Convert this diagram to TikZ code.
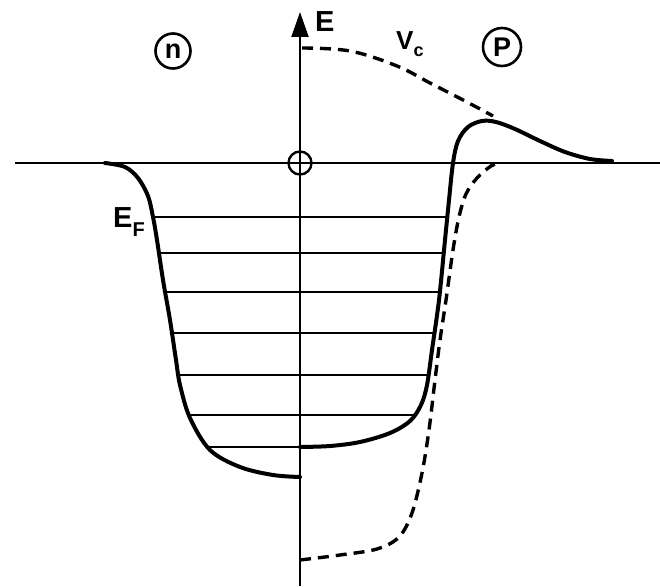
\documentclass[tikz,border=0pt]{standalone}
\usepackage{fontspec}
\setmainfont{Liberation Sans}
\usetikzlibrary{arrows.meta}
\begin{document}
\begin{tikzpicture}[x=1pt,y=-1pt,
  axis/.style={line width=2.8pt},
  vaxis/.style={line width=2pt},
  well/.style={line width=4pt, line join=round, line cap=round},
  dwell/.style={line width=3.4pt, dash pattern=on 11pt off 7pt},
  level/.style={line width=2.6pt},
  lbl/.style={font=\bfseries\fontsize{29}{29}\selectfont, inner sep=0pt},
  tag/.style={circle, draw, line width=2.6pt, minimum size=35pt, inner sep=0pt, font=\bfseries\fontsize{27}{27}\selectfont}]
\useasboundingbox (0,0) rectangle (660,586);
% axes
\coordinate (xl) at (15,163);
\coordinate (xr) at (660,163);
\coordinate (yb) at (300,586);
\coordinate (yt) at (300,12);
\draw[axis] (xl) -- (xr);
\draw[vaxis, -{Triangle[length=25pt,width=17pt]}] (yb) -- (yt);
\node[circle, draw, line width=2.4pt, minimum size=23pt, inner sep=0pt] (o) at (300,163) {};
% energy levels clipped inside the well
\begin{scope}
\clip plot[smooth,tension=0.55] coordinates {(105,163) (125,167) (138,178) (148,196) (153,217) (157,240) (163,280) (170,320) (176,360) (180,385) (190,418) (210,450) (240,467) (273,475) (300,477)}
  -- plot[smooth,tension=0.55] coordinates {(300,447) (330,446) (360,442) (390,433) (410,421) (421,405) (427,385) (432,350) (439,300) (445,240) (449,200) (453,163)} -- cycle;
\foreach \yy in {217,253,292,333,375,415,447}
  \draw[level] (90,\yy) -- (480,\yy);
\end{scope}
% neutron well (left)
\draw[well] plot[smooth,tension=0.55] coordinates {(105,163) (125,167) (138,178) (148,196) (153,217) (157,240) (163,280) (170,320) (176,360) (180,385) (190,418) (210,450) (240,467) (273,475) (300,477)};
% proton well (right) with Coulomb barrier
\draw[well] plot[smooth,tension=0.55] coordinates {(300,447) (330,446) (360,442) (390,433) (410,421) (421,405) (427,385) (432,350) (439,300) (445,240) (449,200) (453,163) (458,141) (468,127) (482,121) (496,122) (515,129) (540,141) (565,152) (590,159) (612,161)};
% dashed nuclear well (mirrored)
\draw[dwell] plot[smooth,tension=0.55] coordinates {(300,560) (340,555) (377,549) (399,537) (412,513) (422,473) (429,430) (435,380) (440,340) (446,300) (453,250) (459,217) (466,194) (477,178) (491,166) (500,163)};
% Coulomb potential
\draw[dwell] plot[smooth,tension=0.6] coordinates {(302,48) (350,51) (397,66) (430,83) (465,101) (493,116)};
% labels
\node[lbl, anchor=north west] (E) at (315,11) {E};
\node[lbl, anchor=north west, font=\bfseries\fontsize{26}{26}\selectfont] (Vc) at (396,31) {V\raisebox{-7pt}{\fontsize{18}{18}\selectfont c}};
\node[lbl, anchor=north west] (EF) at (113,207) {E\raisebox{-9pt}{\fontsize{20}{20}\selectfont F}};
\node[tag] (n) at (173,51) {n};
\node[tag, minimum size=38pt] (p) at (502,47) {P};
\end{tikzpicture}
\end{document}
